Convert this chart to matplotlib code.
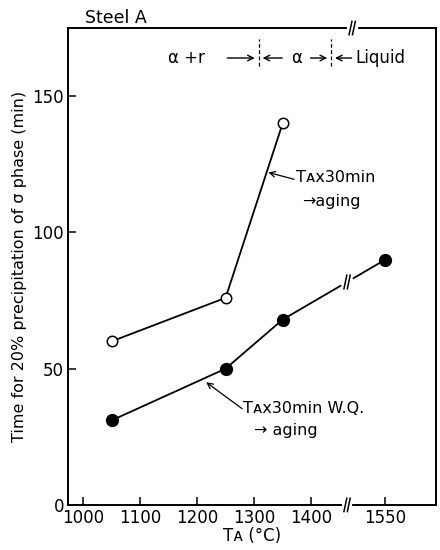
import numpy as np
import matplotlib.pyplot as plt

plt.rcParams['font.family'] = ['DejaVu Sans']

# data
temp_open = [1050, 1250, 1350]
time_open = [60, 76, 140]
temp_fill = [1050, 1250, 1350, 1550]
time_fill = [31, 50, 68, 90]
tick_temps = [1000, 1100, 1200, 1300, 1400, 1550]
y_ticks = [0, 50, 100, 150]

BREAK_AT = 1450
GAP = 20  # axis is compressed beyond the break


def xpos(t):
    t = np.asarray(t, dtype=float)
    return np.where(t <= BREAK_AT, t, t - GAP)


fig = plt.figure(figsize=(4.4, 5.5), dpi=100)
ax = fig.add_axes([0.155, 0.082, 0.836, 0.867])

ax.plot(xpos(temp_open), time_open, '-', color='black', lw=1.3,
        marker='o', ms=7.5, mfc='white', mec='black', mew=1.1)
ax.plot(xpos(temp_fill), time_fill, '-', color='black', lw=1.3,
        marker='o', ms=8.5, mfc='black', mec='black')

ax.set_xlim(974, 1619)
ax.set_ylim(0, 175)
ax.set_xticks(xpos(tick_temps))
ax.set_xticklabels([str(t) for t in tick_temps])
ax.set_yticks(y_ticks)
ax.tick_params(direction='in', length=6, width=1.1, labelsize=12, pad=3)
for s in ax.spines.values():
    s.set_linewidth(1.4)

ax.set_xlabel('Tᴀ (°C)', fontsize=12, labelpad=0)
ax.set_ylabel('Time for 20% precipitation of σ phase (min)', fontsize=11.5, labelpad=4)

# break marks on the axes
trans = ax.get_xaxis_transform()
for yy, xb in ((0.0, 1463), (1.0, 1472)):
    ax.plot([xb - 6, xb + 6], [yy, yy], color='white', lw=3, transform=trans,
            clip_on=False, zorder=5)
    for dx in (-3, 3):
        ax.plot([xb + dx - 2.5, xb + dx + 2.5], [yy - 0.014, yy + 0.014], color='black',
                lw=1.1, transform=trans, clip_on=False, zorder=6)

# break mark on the W.Q. line
xl = 1463
yl = np.interp(xl, xpos(temp_fill[2:]), time_fill[2:])
ax.plot([xl - 6, xl + 6], [yl - 0.7, yl + 0.7], color='white', lw=4, zorder=5)
for dx in (-3, 3):
    ax.plot([xl + dx - 2.5, xl + dx + 2.5], [yl - 2.5, yl + 2.5], color='black', lw=1.1, zorder=6)

# phase regions along the top
arrow = dict(arrowstyle='->', lw=1.0, color='black')
for xb in (1308, 1435):
    ax.plot([xb, xb], [161, 171], color='black', lw=0.9, ls=(0, (3, 2)))
ax.text(1182, 164, 'α +r', fontsize=12, ha='center', va='center')
ax.annotate('', xy=(1306, 164), xytext=(1248, 164), arrowprops=arrow)
ax.annotate('', xy=(1310, 164), xytext=(1354, 164), arrowprops=arrow)
ax.text(1375, 164, 'α', fontsize=12, ha='center', va='center')
ax.annotate('', xy=(1433, 164), xytext=(1394, 164), arrowprops=arrow)
ax.annotate('', xy=(1437, 164), xytext=(1476, 164), arrowprops=arrow)
ax.text(1477, 164, 'Liquid', fontsize=12, ha='left', va='center')

# curve labels
thin = dict(arrowstyle='->', lw=0.9, color='black', shrinkA=0, shrinkB=0)
ax.annotate('', xy=(1325, 122), xytext=(1370, 119.5), arrowprops=thin)
ax.text(1373, 120, 'Tᴀx30min', fontsize=11.5, ha='left', va='center')
ax.text(1384, 111.5, '→aging', fontsize=11.5, ha='left', va='center')

ax.annotate('', xy=(1216, 45), xytext=(1279, 35.3), arrowprops=thin)
ax.text(1281, 35.3, 'Tᴀx30min W.Q.', fontsize=11.5, ha='left', va='center')
ax.text(1300, 27.2, '→ aging', fontsize=11.5, ha='left', va='center')

fig.text(0.193, 0.967, 'Steel A', fontsize=12.5, ha='left', va='center')

fig.savefig('out.png', dpi=100)
